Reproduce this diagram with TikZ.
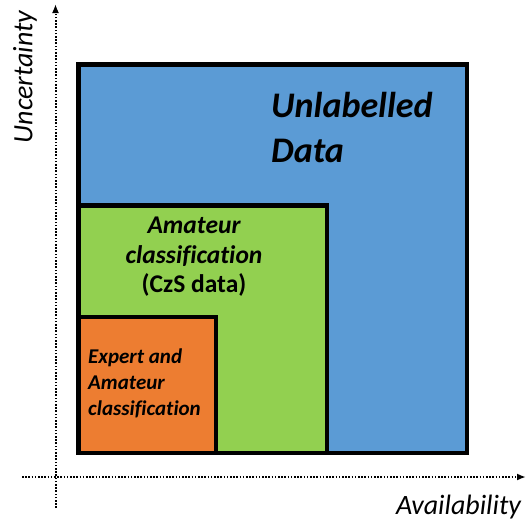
\documentclass[tikz,border=0pt]{standalone}
\usepackage{fontspec}
\setmainfont{Carlito}[Ligatures=NoCommon]
\usetikzlibrary{arrows.meta}
\definecolor{cblue}{HTML}{5B9BD5}
\definecolor{cgreen}{HTML}{92D050}
\definecolor{corange}{HTML}{ED7D31}
\begin{document}
\begin{tikzpicture}[x=1pt,y=-1pt,
  box/.style={draw=black,line width=4.5pt,line join=miter,anchor=north west,inner sep=0pt},
  axis/.style={line width=2pt,dash pattern=on 1.6pt off 1.6pt,-{Latex[length=9pt,width=7pt]}},
  lbl/.style={font=\fontsize{28}{32}\selectfont\itshape,inner sep=0pt},
  big/.style={font=\fontsize{36}{40}\selectfont\bfseries\itshape,inner sep=0pt,anchor=base west},
  mid/.style={font=\fontsize{25.5}{30}\selectfont\bfseries,inner sep=0pt,anchor=base},
  sml/.style={font=\fontsize{21}{25}\selectfont\bfseries\itshape,inner sep=0pt,anchor=base west}]
\useasboundingbox (0,0) rectangle (528,522);
\fill[white] (0,0) rectangle (528,522);
\coordinate (yb) at (55.5,508);
\coordinate (yt) at (55.5,4);
\coordinate (xl) at (22,477);
\coordinate (xr) at (526,477);
\draw[axis] (yb) -- (yt);
\draw[axis] (xl) -- (xr);
\node[box,fill=cblue,minimum width=388.5pt,minimum height=388.5pt] (unl) at (76,62) {};
\node[box,fill=cgreen,minimum width=248.5pt,minimum height=247.5pt] (ama) at (76,203) {};
\node[box,fill=corange,minimum width=137.5pt,minimum height=136pt] (exp) at (76,314.5) {};
\node[big] (t1a) at (271,117) {Unlabelled};
\node[big] (t1b) at (271,162) {Data};
\node[mid] (t2a) at (194,233) {\itshape Amateur};
\node[mid] (t2b) at (194,263) {\itshape classification};
\node[mid] (t2c) at (194,292) {(CzS data)};
\node[sml] (t3a) at (88,363) {Expert and};
\node[sml] (t3b) at (88,389) {Amateur};
\node[sml] (t3c) at (88,415) {classification};
\node[lbl,rotate=90] (ylab) at (25,77) {Uncertainty};
\node[lbl,anchor=base] (xlab) at (458.5,514.5) {Availability};
\end{tikzpicture}
\end{document}
